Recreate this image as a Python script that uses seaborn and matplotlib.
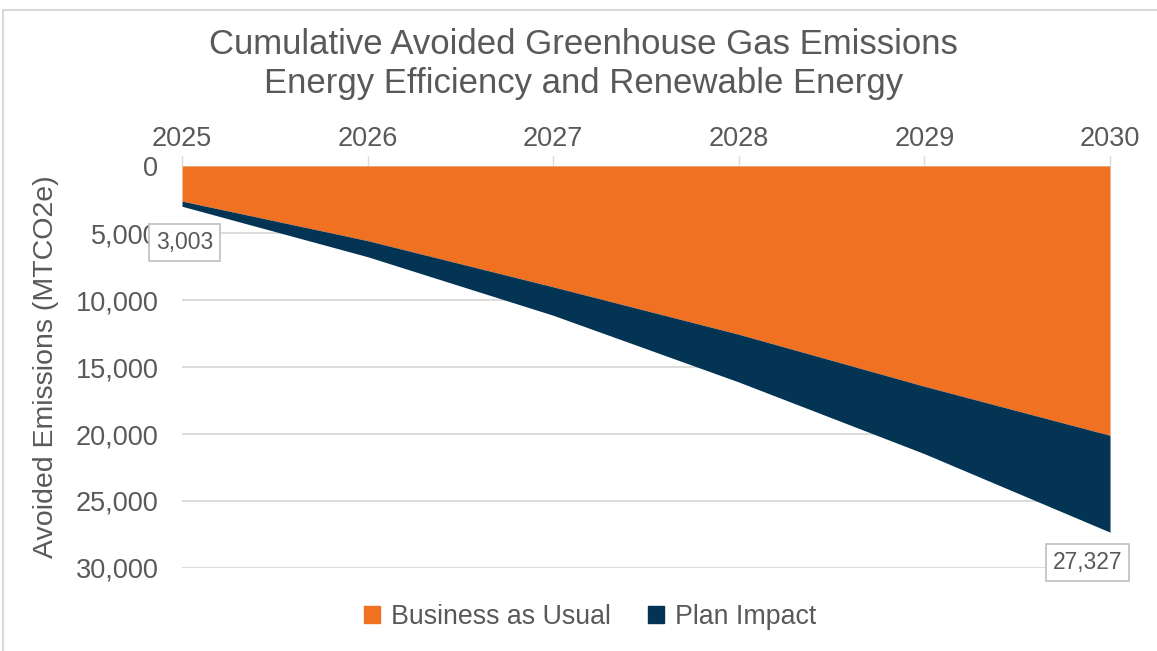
import matplotlib
matplotlib.use("Agg")
import matplotlib.pyplot as plt
import seaborn as sns
import numpy as np
from matplotlib.patches import Patch

years = [2025, 2026, 2027, 2028, 2029, 2030]
business_as_usual = [2620, 5570, 9020, 12560, 16440, 20100]
plan_impact = [383, 1200, 2120, 3560, 5030, 7227]
label_values = {2025: "3,003", 2030: "27,327"}
y_ticks = [0, 5000, 10000, 15000, 20000, 25000, 30000]
y_tick_labels = ["0", "5,000", "10,000", "15,000", "20,000", "25,000", "30,000"]

sns.set_theme(style="white")
plt.rcParams["font.family"] = ["Liberation Sans", "DejaVu Sans"]

TXT = "#595959"
ORANGE = "#F07122"
NAVY = "#043454"
GRID = "#d9d9d9"

fig = plt.figure(figsize=(11.57, 6.51), dpi=100)
ax = fig.add_axes([0.1573, 0.1275, 0.8021, 0.6175])

bau = np.array(business_as_usual)
total = bau + np.array(plan_impact)

ax.fill_between(years, 0, bau, color=ORANGE, linewidth=0, zorder=3)
ax.fill_between(years, bau, total, color=NAVY, linewidth=0, zorder=3)

ax.set_xlim(years[0], years[-1])
ax.set_ylim(30000, 0)
ax.set_yticks(y_ticks)
ax.set_yticklabels(y_tick_labels)
ax.set_xticks(years)
ax.set_xticklabels([str(y) for y in years])
ax.xaxis.tick_top()
ax.tick_params(axis="x", which="both", top=True, bottom=False, length=7, width=1,
               color=GRID, direction="out", labelsize=19.5, labelcolor=TXT, pad=3)
ax.tick_params(axis="y", length=0, labelsize=19.5, labelcolor=TXT, pad=17)

for v in y_ticks[1:]:
    ax.axhline(v, color=GRID, linewidth=1.3, zorder=1)
ax.axhline(0, color=GRID, linewidth=1.3, zorder=1)

for s in ax.spines.values():
    s.set_visible(False)

ax.set_ylabel("Avoided Emissions (MTCO2e)", fontsize=20.5, color=TXT, labelpad=12)

# data labels
ax.annotate(label_values[2025], xy=(years[0], total[0]), xytext=(2, -26),
            textcoords="offset points", ha="center", va="center", fontsize=16.5, color=TXT,
            bbox=dict(boxstyle="square,pad=0.3", fc="white", ec="#bfbfbf", lw=1.2), zorder=5)
ax.annotate(label_values[2030], xy=(years[-1], total[-1]), xytext=(-16, -22),
            textcoords="offset points", ha="center", va="center", fontsize=16.5, color=TXT,
            bbox=dict(boxstyle="square,pad=0.3", fc="white", ec="#bfbfbf", lw=1.2), zorder=5)

fig.text(0.504, 0.932, "Cumulative Avoided Greenhouse Gas Emissions", ha="center", va="center",
         fontsize=25, color=TXT)
fig.text(0.504, 0.872, "Energy Efficiency and Renewable Energy", ha="center", va="center",
         fontsize=25, color=TXT)

handles = [Patch(color=ORANGE, label="Business as Usual"), Patch(color=NAVY, label="Plan Impact")]
fig.legend(handles=handles, loc="center", bbox_to_anchor=(0.51, 0.052), ncol=2, frameon=False,
           fontsize=19.3, labelcolor=TXT, handlelength=0.6, handleheight=0.6,
           handletextpad=0.4, columnspacing=1.4)

# outer frame lines
fig.add_artist(plt.Line2D([0.003, 0.003], [0.0, 0.985], transform=fig.transFigure, color=GRID, lw=1.5))
fig.add_artist(plt.Line2D([0.003, 1.0], [0.985, 0.985], transform=fig.transFigure, color=GRID, lw=1.5))

fig.savefig("out.png", dpi=100)
